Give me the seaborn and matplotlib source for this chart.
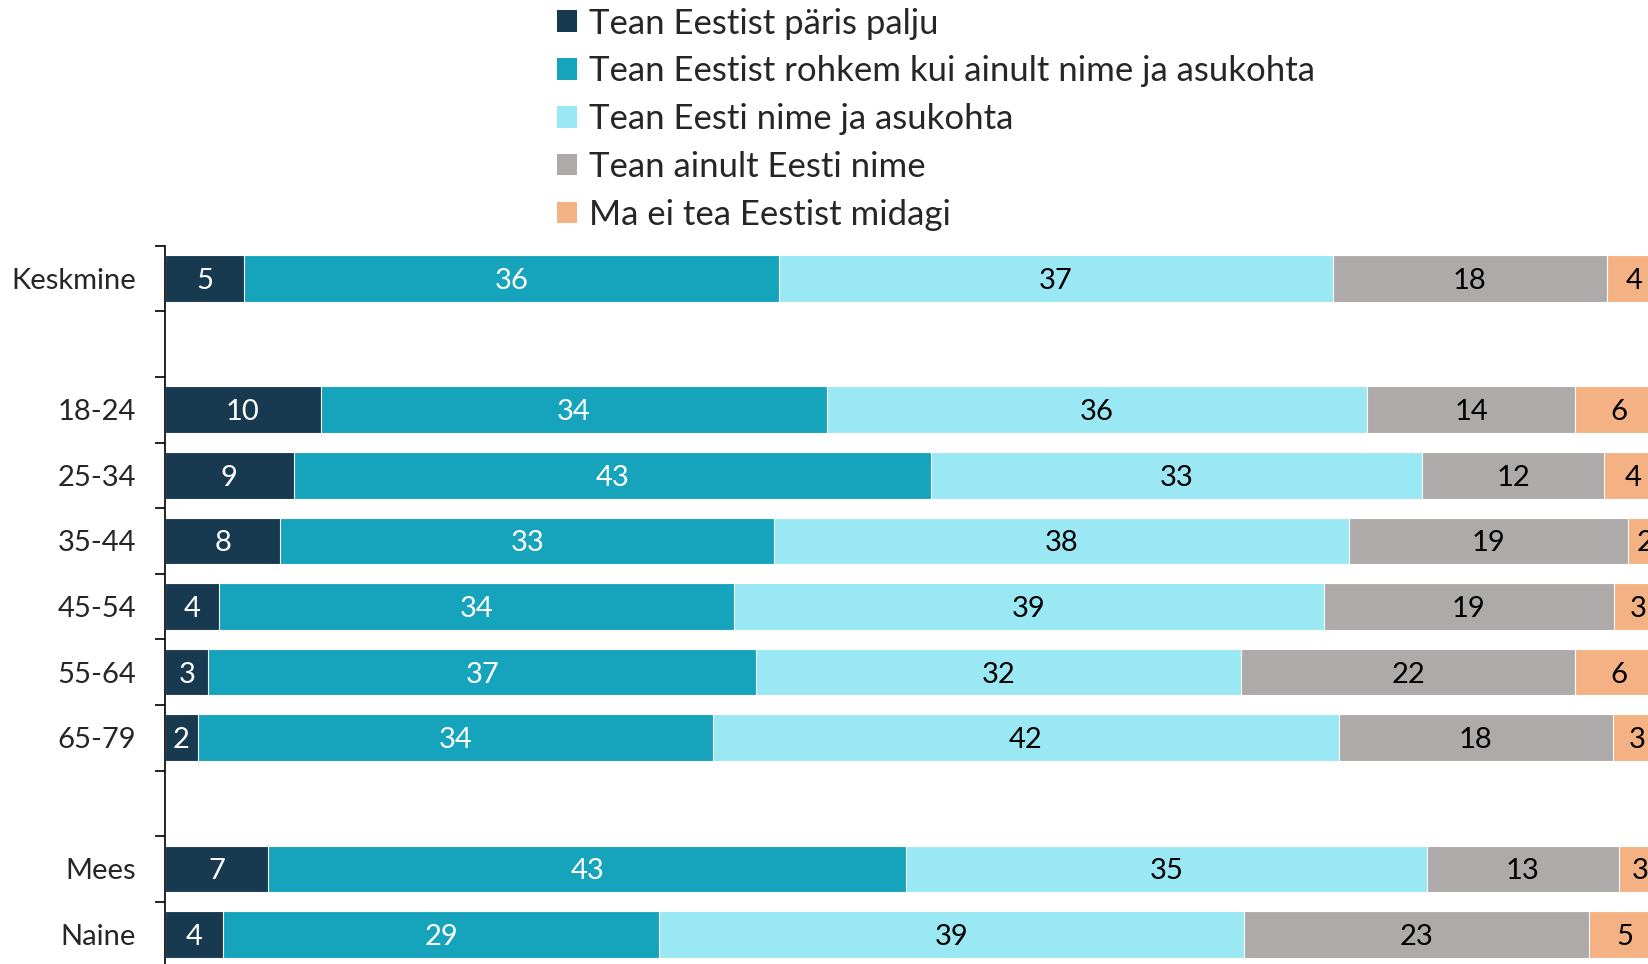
import pandas as pd
import matplotlib.pyplot as plt
import seaborn as sns
from matplotlib.patches import Patch

# Data (percent)
groups = ["Keskmine", "18-24", "25-34", "35-44", "45-54", "55-64", "65-79", "Mees", "Naine"]
series = ["Tean Eestist päris palju",
          "Tean Eestist rohkem kui ainult nime ja asukohta",
          "Tean Eesti nime ja asukohta",
          "Tean ainult Eesti nime",
          "Ma ei tea Eestist midagi"]
know_lot = [5.3, 10.4, 8.6, 7.7, 3.6, 2.9, 2.2, 6.9, 3.9]
know_more = [35.7, 33.8, 42.6, 33.0, 34.4, 36.6, 34.4, 42.6, 29.1]
name_loc = [37.0, 36.1, 32.8, 38.4, 39.4, 32.4, 41.8, 34.8, 39.1]
name_only = [18.3, 13.9, 12.1, 18.6, 19.4, 22.3, 18.3, 12.8, 23.0]
nothing = [3.7, 5.8, 3.9, 2.3, 3.2, 5.8, 3.3, 2.9, 4.9]

colors = ["#173a50", "#16a4bc", "#9ae8f4", "#aeaaaa", "#f4b183"]
text_colors = ["white", "white", "black", "black", "black"]

# category order with empty slots between the blocks
order = ["Keskmine", " ", "18-24", "25-34", "35-44", "45-54", "55-64", "65-79", "  ", "Mees", "Naine"]

df = pd.DataFrame({"group": groups})
vals = [know_lot, know_more, name_loc, name_only, nothing]
for s, v in zip(series, vals):
    df[s] = v
cum = df[series].cumsum(axis=1)

sns.set_style("white")
plt.rcParams["font.family"] = ["Lato", "DejaVu Sans"]

fig = plt.figure(figsize=(16.49, 9.64), dpi=100)
ax = fig.add_axes([165 / 1649, -3.3 / 964, 1497 / 1649, (967.3 - 245.7) / 964])

# draw cumulative bars from the back, so they look stacked
for i in range(len(series) - 1, -1, -1):
    d = pd.DataFrame({"group": df["group"], "x": cum[series[i]]})
    sns.barplot(data=d, y="group", x="x", order=order, color=colors[i],
                width=0.71, edgecolor="white", linewidth=0.8, ax=ax,
                saturation=1, errorbar=None)

# value labels in the middle of each segment
for i, s in enumerate(series):
    for g, v, c in zip(df["group"], df[s], cum[s]):
        ax.text(c - v / 2, order.index(g), f"{v:.0f}", ha="center", va="center_baseline",
                color=text_colors[i], fontsize=21)

ax.set_xlim(0, 100)
ax.set_ylim(10.5, -0.5)
ax.set_xlabel("")
ax.set_ylabel("")
ax.set_xticks([])
ax.set_yticks(range(len(order)))
ax.set_yticklabels(order, fontsize=21)
ax.set_yticks([i - 0.5 for i in range(len(order) + 1)], minor=True)
ax.tick_params(axis="y", which="major", left=False, length=0, pad=21)
ax.tick_params(axis="y", which="minor", left=True, length=7, width=1.2, color="black")
for sp in ["top", "right", "bottom"]:
    ax.spines[sp].set_visible(False)
ax.spines["left"].set_color("black")
ax.spines["left"].set_linewidth(1.2)

handles = [Patch(facecolor=c, edgecolor="none") for c in colors]
fig.legend(handles, series, loc="upper left", bbox_to_anchor=(557 / 1649, 1 - 7.5 / 964),
           frameon=False, fontsize=25, borderpad=0, borderaxespad=0,
           handlelength=0.58, handleheight=0.58, handletextpad=0.33, labelspacing=0.455)

fig.savefig("out.png", dpi=100)
